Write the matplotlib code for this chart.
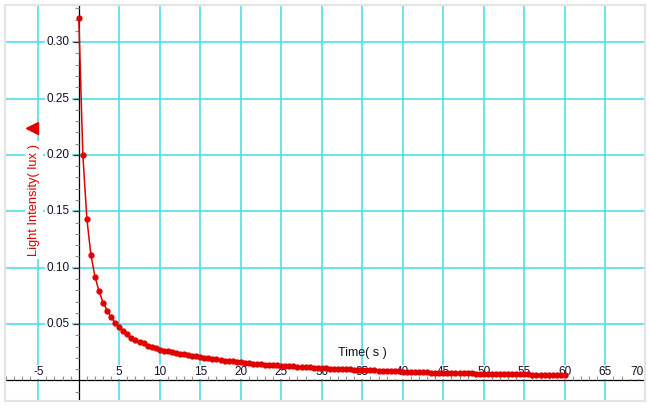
import matplotlib.pyplot as plt
import numpy as np

#-------------------------------------------DATA---------------------------------------
time_s = np.arange(0, 60.5, 0.5)
light_lux = [
    0.321, 0.200, 0.143, 0.111, 0.092, 0.079, 0.069, 0.062, 0.056, 0.051,
    0.047, 0.044, 0.041, 0.038, 0.036, 0.034, 0.033, 0.031, 0.030, 0.029,
    0.0273, 0.0265, 0.0258, 0.0251, 0.0244, 0.0237, 0.0231, 0.0225, 0.0219, 0.0213,
    0.0207, 0.0202, 0.0197, 0.0192, 0.0187, 0.0182, 0.0177, 0.0173, 0.0169, 0.0165,
    0.0161, 0.0157, 0.0153, 0.0150, 0.0147, 0.0144, 0.0141, 0.0138, 0.0136, 0.0134,
    0.0131, 0.0129, 0.0127, 0.0124, 0.0122, 0.0120, 0.0118, 0.0116, 0.0114, 0.0112,
    0.0109, 0.0108, 0.0106, 0.0105, 0.0103, 0.0101, 0.0100, 0.0098, 0.0097, 0.0095,
    0.0094, 0.0092, 0.0091, 0.0089, 0.0088, 0.0086, 0.0085, 0.0083, 0.0082, 0.0080,
    0.0079, 0.0078, 0.0077, 0.0075, 0.0074, 0.0073, 0.0072, 0.0070, 0.0069, 0.0068,
    0.0067, 0.0066, 0.0066, 0.0065, 0.0064, 0.0063, 0.0063, 0.0062, 0.0061, 0.0061,
    0.0060, 0.0059, 0.0059, 0.0058, 0.0057, 0.0057, 0.0056, 0.0055, 0.0055, 0.0054,
    0.0053, 0.0053, 0.0052, 0.0052, 0.0051, 0.0051, 0.0050, 0.0050, 0.0049, 0.0049,
    0.0048,
]

x_ticks = [-5, 5, 10, 15, 20, 25, 30, 35, 40, 45, 50, 55, 60, 65, 70]
y_ticks = [0.05, 0.10, 0.15, 0.20, 0.25, 0.30]
y_tick_labels = ['0.05', '0.10', '0.15', '0.20', '0.25', '0.30']
#-------------------------------------------DATA---------------------------------------

xmin, xmax = -9.11, 69.9
ymin, ymax = -0.0182, 0.3329

grid_col = '#4fdfe9'
red = '#e00000'
txt_col = '#10102a'

plt.rcParams['font.family'] = ['Liberation Sans', 'DejaVu Sans']

fig = plt.figure(figsize=(6.5, 4.07), dpi=100)
ax = fig.add_axes([5 / 650, 6 / 407, 640 / 650, 396 / 407])
ax.set_xlim(xmin, xmax)
ax.set_ylim(ymin, ymax)
ax.set_xticks([])
ax.set_yticks([])
for s in ax.spines.values():
    s.set_color('#e4e4e4')
    s.set_linewidth(1.5)

# grid
for xv in x_ticks:
    ax.axvline(xv, color=grid_col, lw=1.2, zorder=1)
for yv in y_ticks:
    ax.axhline(yv, color=grid_col, lw=1.2, zorder=1)

# axes through zero
ax.axhline(0, color='black', lw=0.9, zorder=2)
ax.axvline(0, color='black', lw=0.9, zorder=2)

# minor ticks
minor_x = [v for v in range(-9, 70) if v != 0]
ax.plot(minor_x, np.zeros(len(minor_x)), ls='none', marker=2, ms=2.6,
        mec='#909090', mew=0.8, zorder=2)
minor_y = [v / 100 for v in range(-1, 34) if v != 0]
ax.plot(np.zeros(len(minor_y)), minor_y, ls='none', marker=0, ms=2.6,
        mec='#909090', mew=0.8, zorder=2)
ax.plot(np.zeros(len(y_ticks)), y_ticks, ls='none', marker=0, ms=4.5,
        mec='#333333', mew=0.9, zorder=2)

# tick labels
box = dict(facecolor='white', edgecolor='none', pad=0.6)
for xv in x_ticks:
    ax.text(min(xv, xmax - 1.0), 0.0078, str(xv), ha='center', va='center',
            fontsize=8.5, color=txt_col, bbox=box, zorder=3)
for yv, lab in zip(y_ticks, y_tick_labels):
    ax.text(-1.1, yv, lab, ha='right', va='center',
            fontsize=8.5, color=txt_col, bbox=dict(facecolor='white', edgecolor='none', pad=1.5),
            zorder=3)

# data
ax.plot(time_s, light_lux, color=red, lw=1.1, marker='o', ms=3.5,
        mfc=red, mec=red, zorder=4)

# axis titles
ax.text(35.0, 0.0246, 'Time( s )', ha='center', va='center',
        fontsize=9, color=txt_col, zorder=3)
ax.text(-5.55, 0.16, 'Light Intensity( lux )', ha='center', va='center',
        rotation=90, fontsize=9.3, color=red,
        bbox=dict(facecolor='white', edgecolor='none', pad=2), zorder=3)
ax.plot([-5.8], [0.2238], ls='none', marker='<', ms=8.5, color=red, zorder=3,
        clip_on=False)

fig.savefig('out.png', dpi=100)
